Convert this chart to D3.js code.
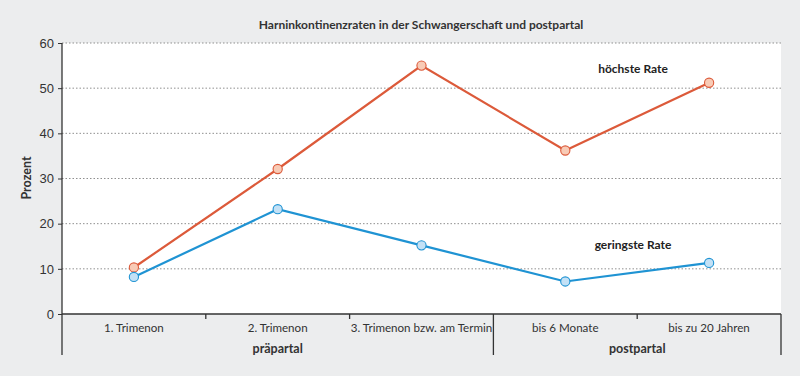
<!DOCTYPE html>
<html>
<head>
<meta charset="utf-8">
<script src="https://cdn.jsdelivr.net/npm/d3@7"></script>
<style>
  body { margin: 0; background: #ecedee; }
  svg { display: block; font-family: Lato, "Open Sans", sans-serif; }
</style>
</head>
<body>
<svg width="800" height="376"></svg>
<script>
// DATA
const categories = ["1. Trimenon", "2. Trimenon", "3. Trimenon bzw. am Termin", "bis 6 Monate", "bis zu 20 Jahren"];
const groups = [
  { name: "präpartal", from: 0, to: 3 },
  { name: "postpartal", from: 3, to: 5 },
];
const highRate = [10.3, 32.1, 55.0, 36.2, 51.2];
const lowRate = [8.2, 23.2, 15.2, 7.2, 11.3];
const yTicks = [0, 10, 20, 30, 40, 50, 60];

const svg = d3.select("svg");

const margin = { top: 43, right: 19, bottom: 62, left: 62 };
const width = 800 - margin.left - margin.right,
  height = 376 - margin.top - margin.bottom;

// background + white plot area
svg.append("rect").attr("width", 800).attr("height", 376).attr("fill", "#ecedee");

const g = svg.append("g").attr("transform", `translate(${margin.left},${margin.top})`);

g.append("rect").attr("width", width).attr("height", height).attr("fill", "#fff");

// scales
const xScale = d3.scaleBand().domain(categories).range([0, width]);
const yScale = d3.scaleLinear().domain([0, 60]).range([height, 0]);
const xc = (i) => xScale(categories[i]) + xScale.bandwidth() / 2;

// gridlines
g.selectAll("line.grid")
  .data(yTicks.filter((d) => d > 0))
  .enter()
  .append("line")
  .attr("class", "grid")
  .attr("x1", 0)
  .attr("x2", width)
  .attr("y1", (d) => yScale(d))
  .attr("y2", (d) => yScale(d))
  .attr("stroke", "#8f8f8f")
  .attr("stroke-width", 1)
  .attr("stroke-dasharray", "1.5,2");

// y axis
const yAxis = d3.axisLeft(yScale).tickValues(yTicks).tickSize(4).tickPadding(4);
const yG = g.append("g").call(yAxis);
yG.select(".domain").remove();
yG.selectAll("line").attr("stroke", "#333");
yG.selectAll("text").attr("font-size", 13).attr("fill", "#333");

g.append("line")
  .attr("x1", 0).attr("x2", 0)
  .attr("y1", 0).attr("y2", height + 41)
  .attr("stroke", "#333").attr("stroke-width", 1.3);

// x axis baseline
g.append("line")
  .attr("x1", 0).attr("x2", width)
  .attr("y1", height).attr("y2", height)
  .attr("stroke", "#333").attr("stroke-width", 1.3);

// small ticks between categories, long divider at group edges
d3.range(1, categories.length + 1).forEach((i) => {
  const x = i < categories.length ? xScale(categories[i]) : width;
  const isEdge = groups.some((gr) => gr.to === i);
  g.append("line")
    .attr("x1", x).attr("x2", x)
    .attr("y1", height).attr("y2", height + (isEdge ? 41 : 5))
    .attr("stroke", "#333").attr("stroke-width", 1.3);
});

// category labels
g.selectAll("text.cat")
  .data(categories)
  .enter()
  .append("text")
  .attr("class", "cat")
  .attr("x", (d, i) => xc(i))
  .attr("y", height + 18)
  .attr("text-anchor", "middle")
  .attr("font-size", 11.6)
  .attr("fill", "#333")
  .text((d) => d);

// group labels
g.selectAll("text.grp")
  .data(groups)
  .enter()
  .append("text")
  .attr("class", "grp")
  .attr("x", (d) => (xScale(categories[d.from]) + (d.to < categories.length ? xScale(categories[d.to]) : width)) / 2)
  .attr("y", height + 39)
  .attr("text-anchor", "middle")
  .attr("font-size", 12.5)
  .attr("font-weight", "bold")
  .attr("fill", "#333")
  .text((d) => d.name);

// y axis title
svg.append("text")
  .attr("transform", "translate(31,178) rotate(-90)")
  .attr("text-anchor", "middle")
  .attr("font-size", 12.5)
  .attr("font-weight", "bold")
  .attr("fill", "#333")
  .text("Prozent");

// chart title
svg.append("text")
  .attr("x", 421)
  .attr("y", 29)
  .attr("text-anchor", "middle")
  .attr("font-size", 12)
  .attr("font-weight", "bold")
  .attr("fill", "#333")
  .text("Harninkontinenzraten in der Schwangerschaft und postpartal");

// series
const series = [
  { values: highRate, stroke: "#dc5a3a", fill: "#f8cbb6", label: "höchste Rate", labelY: 73 },
  { values: lowRate, stroke: "#1f93d3", fill: "#c3e1f6", label: "geringste Rate", labelY: 249 },
];

const line = d3.line().x((d, i) => xc(i)).y((d) => yScale(d));

series.forEach((s) => {
  g.append("path")
    .datum(s.values)
    .attr("fill", "none")
    .attr("stroke", s.stroke)
    .attr("stroke-width", 2.2)
    .attr("d", line);

  g.selectAll(null)
    .data(s.values)
    .enter()
    .append("circle")
    .attr("cx", (d, i) => xc(i))
    .attr("cy", (d) => yScale(d))
    .attr("r", 4.6)
    .attr("fill", s.fill)
    .attr("stroke", s.stroke)
    .attr("stroke-width", 1.1);

  svg.append("text")
    .attr("x", 633)
    .attr("y", s.labelY)
    .attr("text-anchor", "middle")
    .attr("font-size", 12)
    .attr("font-weight", "bold")
    .attr("fill", "#222")
    .text(s.label);
});
</script>
</body>
</html>
